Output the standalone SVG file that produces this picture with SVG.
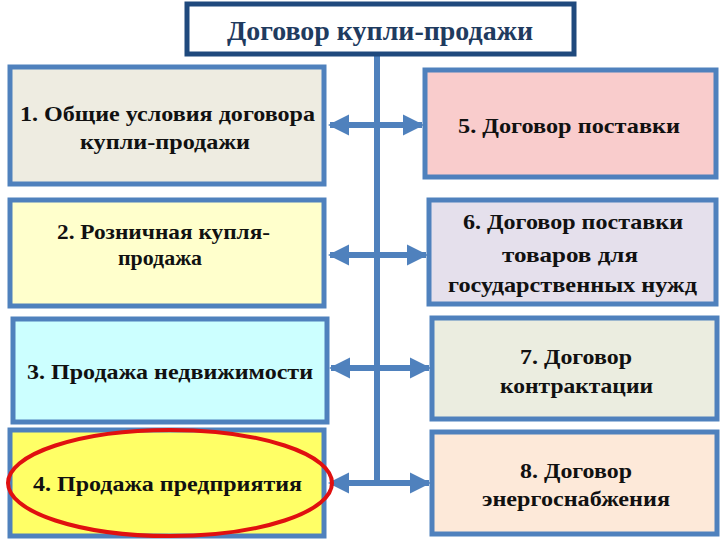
<svg xmlns="http://www.w3.org/2000/svg" width="720" height="540" viewBox="0 0 720 540">
<defs>
<style>
.box{stroke:#4F81BD;stroke-width:5}
.t{font-family:"Liberation Serif","Times New Roman",serif;font-weight:bold;font-size:21px;fill:#111;text-anchor:middle}
.conn{stroke:#4F81BD;stroke-width:6;fill:none}
</style>
<marker id="ah" viewBox="0 0 10 10" refX="9" refY="5" markerWidth="3.6" markerHeight="3.6" orient="auto-start-reverse" markerUnits="strokeWidth">
<path d="M0,0 L10,5 L0,10 z" fill="#4F81BD"/>
</marker>
</defs>
<rect width="720" height="540" fill="#fff"/>
<g id="connectors">
<line class="conn" x1="377" y1="55" x2="377" y2="483"/>
<line class="conn" x1="330" y1="125" x2="422" y2="125" marker-start="url(#ah)" marker-end="url(#ah)"/>
<line class="conn" x1="330" y1="255" x2="426" y2="255" marker-start="url(#ah)" marker-end="url(#ah)"/>
<line class="conn" x1="331" y1="368" x2="429" y2="368" marker-start="url(#ah)" marker-end="url(#ah)"/>
<line class="conn" x1="330" y1="483" x2="429" y2="483" marker-start="url(#ah)" marker-end="url(#ah)"/>
</g>
<g id="title">
<rect x="187" y="4" width="387" height="50" fill="#fff" stroke="#1F497D" stroke-width="5"/>
<text x="380" y="40" class="t" style="font-size:27px;fill:#1F3B5F" textLength="306" lengthAdjust="spacingAndGlyphs">Договор купли-продажи</text>
</g>
<g id="n1">
<rect class="box" x="10" y="67" width="314" height="117" fill="#EEECE1"/>
<text class="t" x="167.5" y="121" textLength="295" lengthAdjust="spacingAndGlyphs">1. Общие условия договора</text>
<text class="t" x="165" y="149" textLength="170" lengthAdjust="spacingAndGlyphs">купли-продажи</text>
</g>
<g id="n2">
<rect class="box" x="10" y="200" width="314" height="106" fill="#FFFFCC"/>
<text class="t" x="163.5" y="239" textLength="213" lengthAdjust="spacingAndGlyphs">2. Розничная купля-</text>
<text class="t" x="160" y="265" textLength="84" lengthAdjust="spacingAndGlyphs">продажа</text>
</g>
<g id="n3">
<rect class="box" x="13" y="319" width="314" height="103" fill="#CCFFFF"/>
<text class="t" x="170" y="379" textLength="286" lengthAdjust="spacingAndGlyphs">3. Продажа недвижимости</text>
</g>
<g id="n4">
<rect class="box" x="10" y="430" width="314" height="106" fill="#FFFF66"/>
<text class="t" x="167.5" y="491" textLength="269" lengthAdjust="spacingAndGlyphs">4. Продажа предприятия</text>
</g>
<g id="n5">
<rect class="box" x="425" y="70" width="291" height="107" fill="#F9CCCC"/>
<text class="t" x="569" y="133" textLength="222" lengthAdjust="spacingAndGlyphs">5. Договор поставки</text>
</g>
<g id="n6">
<rect class="box" x="429" y="200" width="287" height="104" fill="#E5E0EC"/>
<text class="t" x="573" y="229" textLength="220" lengthAdjust="spacingAndGlyphs">6. Договор поставки</text>
<text class="t" x="570" y="262" textLength="136" lengthAdjust="spacingAndGlyphs">товаров для</text>
<text class="t" x="572.5" y="292" textLength="249" lengthAdjust="spacingAndGlyphs">государственных нужд</text>
</g>
<g id="n7">
<rect class="box" x="432" y="318" width="285" height="101" fill="#EBEDE0"/>
<text class="t" x="576" y="364" textLength="112" lengthAdjust="spacingAndGlyphs">7. Договор</text>
<text class="t" x="576.5" y="393" textLength="153" lengthAdjust="spacingAndGlyphs">контрактации</text>
</g>
<g id="n8">
<rect class="box" x="432" y="432" width="285" height="102" fill="#FDE9D9"/>
<text class="t" x="576" y="478" textLength="112" lengthAdjust="spacingAndGlyphs">8. Договор</text>
<text class="t" x="576" y="506" textLength="188" lengthAdjust="spacingAndGlyphs">энергоснабжения</text>
</g>
<ellipse cx="170" cy="483" rx="162" ry="53" fill="none" stroke="#E01010" stroke-width="4"/>
</svg>
